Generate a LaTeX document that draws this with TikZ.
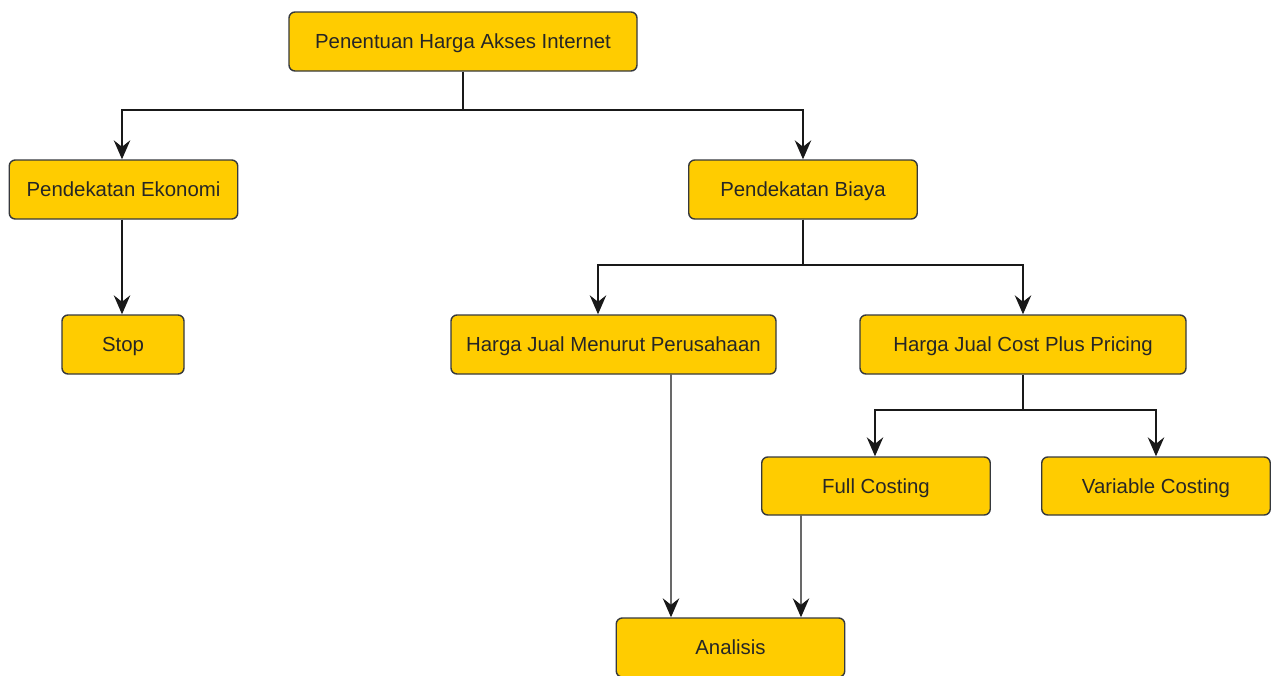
\documentclass[tikz,border=0pt]{standalone}
\usepackage{fontspec}
\setmainfont{Liberation Sans}
\usepackage{tikz}
\usetikzlibrary{positioning,arrows.meta}
\definecolor{boxfill}{RGB}{255,204,0}
\definecolor{boxline}{RGB}{54,57,61}
\tikzset{%
  step box/.style={draw=boxline, fill=boxfill, rectangle, rounded corners=0.12cm,
    line width=0.8pt, minimum height=1.18cm, minimum width=4.57cm, text depth=0pt,
    font=\fontsize{11.6}{14}\selectfont, text=black!85},% yellow box
  link/.style={line width=0.8pt, black!90, -{Stealth[length=3.8mm,width=3.3mm,inset=1.3mm]}}% connector
}

\begin{document}
\begin{tikzpicture}
\useasboundingbox (0,0) rectangle (25.42,-13.5);
\node[step box, minimum width=6.96cm] (top) at (9.26,-0.83) {Penentuan Harga Akses Internet};
\node[step box] (ekonomi) at (2.47,-3.79) {Pendekatan Ekonomi};
\node[step box] (biaya) at (16.06,-3.79) {Pendekatan Biaya};
\node[step box, minimum width=2.44cm] (stop) at (2.46,-6.89) {Stop};
\node[step box, minimum width=6.5cm] (perusahaan) at (12.27,-6.89) {Harga Jual Menurut Perusahaan};
\node[step box, minimum width=6.52cm] (costplus) at (20.46,-6.89) {Harga Jual Cost Plus Pricing};
\node[step box, minimum height=1.16cm] (full) at (17.52,-9.72) {Full Costing};
\node[step box, minimum height=1.16cm] (variable) at (23.12,-9.72) {Variable Costing};
\node[step box] (analisis) at (14.61,-12.95) {Analisis};

%%%%
\coordinate (j1) at (9.26,-2.2);
\coordinate (j2) at (16.06,-5.3);
\coordinate (j3) at (20.46,-8.2);
%%%%

\draw[link] (top.south) -- (j1) -| ([xshift=-0.03cm]ekonomi.north);
\draw[link] (top.south) -- (j1) -| (biaya.north);
\draw[link] ([xshift=-0.03cm]ekonomi.south) -- ([xshift=-0.02cm]stop.north);
\draw[link] (biaya.south) -- (j2) -| ([xshift=-0.31cm]perusahaan.north);
\draw[link] (biaya.south) -- (j2) -| (costplus.north);
\draw[link] (costplus.south) -- (j3) -| ([xshift=-0.02cm]full.north);
\draw[link] (costplus.south) -- (j3) -| (variable.north);
\draw[link] ([xshift=1.15cm]perusahaan.south) -- ([xshift=-1.19cm]analisis.north);
\draw[link] ([xshift=-1.5cm]full.south) -- ([xshift=1.41cm]analisis.north);
\end{tikzpicture}
\end{document}
